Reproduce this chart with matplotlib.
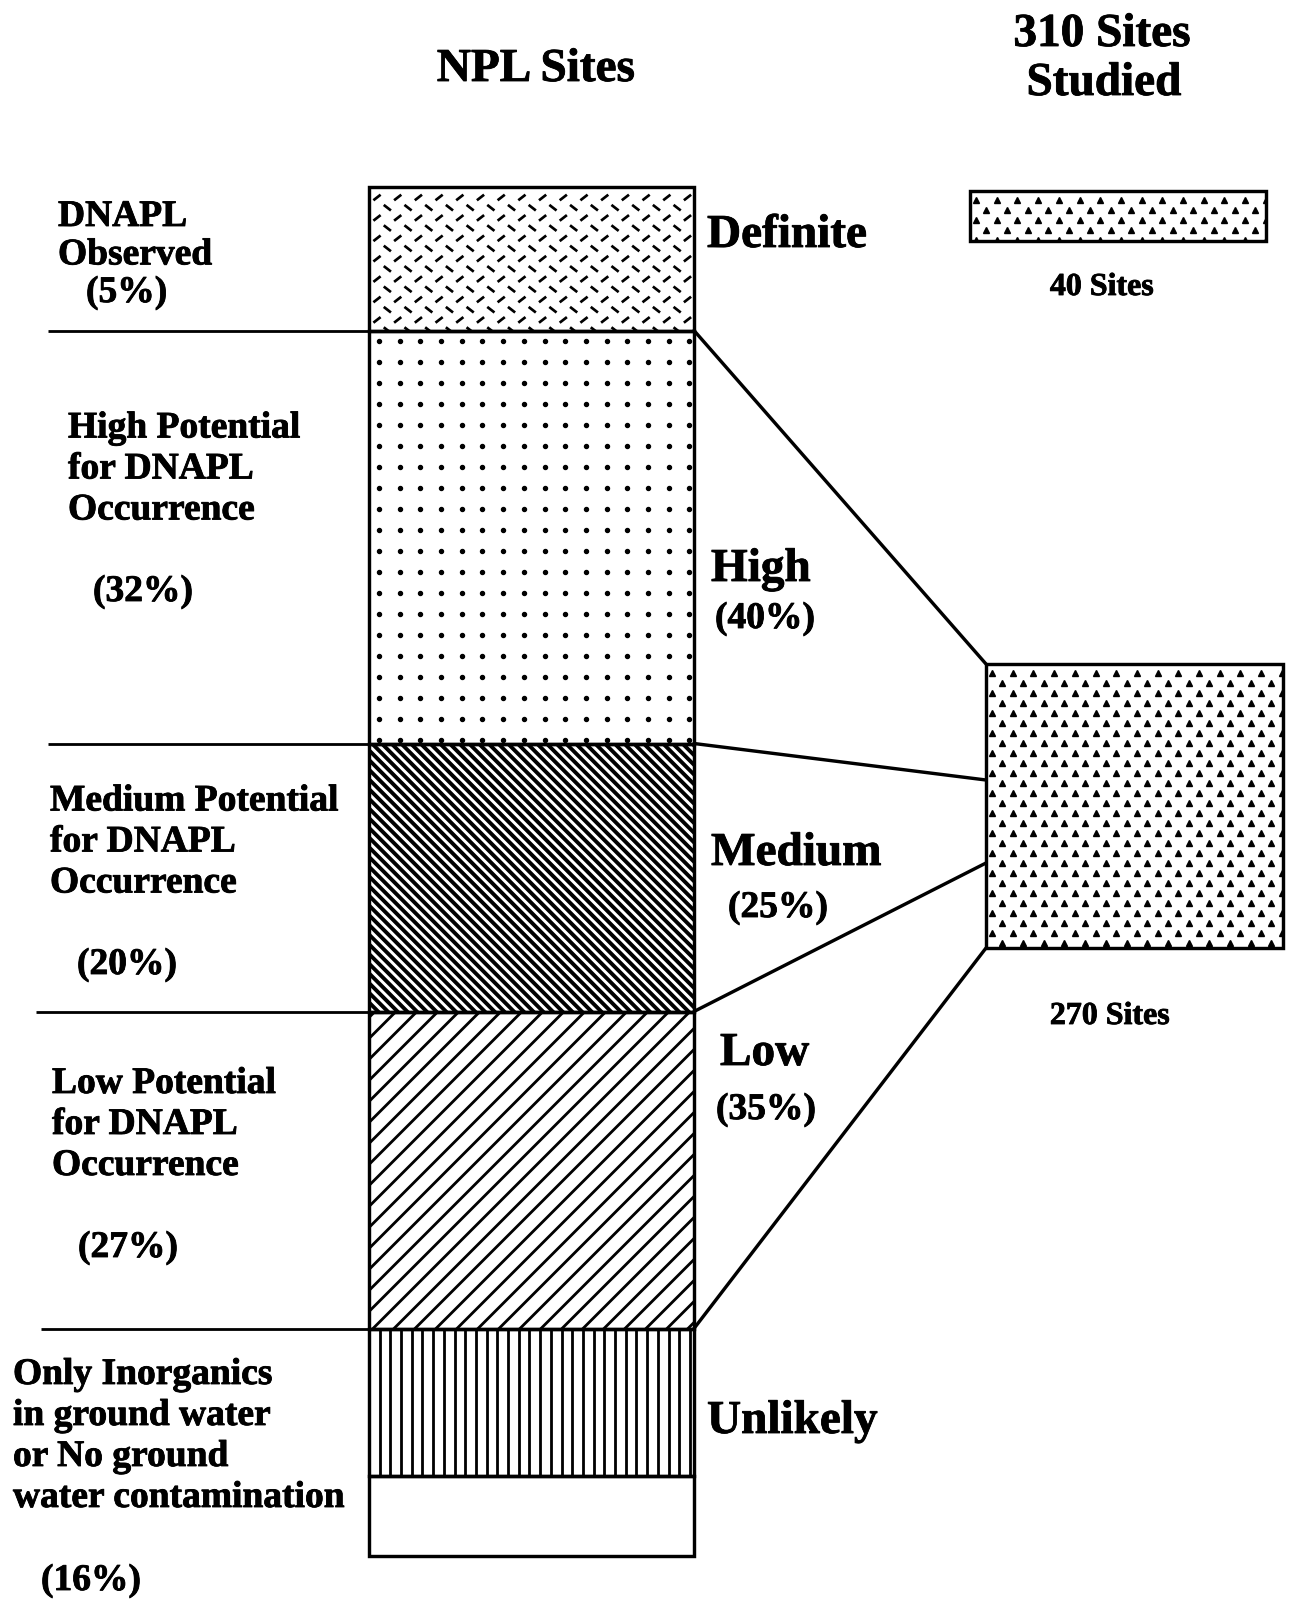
import numpy as np
import matplotlib
matplotlib.use("Agg")
import matplotlib.pyplot as plt
import matplotlib.patheffects as pe
from matplotlib.collections import LineCollection

# ---------------- data ----------------
categories = ["Definite", "High", "Medium", "Low", "Unlikely"]
category_share = ["", "(40%)", "(25%)", "(35%)", ""]
npl_labels = [
    ["DNAPL", "Observed"],
    ["High Potential", "for DNAPL", "Occurrence"],
    ["Medium Potential", "for DNAPL", "Occurrence"],
    ["Low Potential", "for DNAPL", "Occurrence"],
    ["Only Inorganics", "in ground water", "or No ground", "water contamination"],
]
npl_share = ["(5%)", "(32%)", "(20%)", "(27%)", "(16%)"]
# segment extents as drawn in the column
segment_values = [144, 413, 268, 317, 227]
unlikely_inorganic_value = 147          # hatched part of the "Unlikely" segment
sites_labels = ["40 Sites", "270 Sites"]
title_left = "NPL Sites"
title_right = ["310 Sites", "Studied"]

# ---------------- figure ----------------
plt.rcParams['font.family'] = ['Liberation Serif', 'DejaVu Serif']
plt.rcParams['font.weight'] = 'bold'
W, H = 1291, 1606
fig = plt.figure(figsize=(W / 100, H / 100), dpi=100)
ax = fig.add_axes([0, 0, 1, 1])
ax.set_xlim(0, W)
ax.set_ylim(H, 0)
ax.axis('off')

PX = 72 / 100.0  # points per pixel
BAR_LEFT, BAR_RIGHT, BAR_TOP = 369, 694, 187.5
bar_w = BAR_RIGHT - BAR_LEFT
bar_cx = (BAR_LEFT + BAR_RIGHT) / 2
seg = np.array(segment_values, float)
starts = BAR_TOP + np.concatenate([[0], np.cumsum(seg)[:-1]])
ends = starts + seg
EDGE_LW = 3.4 * PX
TEXT_FX = [pe.withStroke(linewidth=0.6, foreground='black')]


def seg_patch(bottom, height, z=1):
    return ax.bar(bar_cx, height, bottom=bottom, width=bar_w, color='white',
                  edgecolor='none', zorder=z)[0]


def outline(bottom, height):
    ax.bar(bar_cx, height, bottom=bottom, width=bar_w, fill=False,
           edgecolor='black', linewidth=EDGE_LW, zorder=5)


def line_texture(patch, segs, lw):
    lc = LineCollection(segs, colors='black', linewidths=lw * PX, zorder=2,
                        capstyle='butt')
    ax.add_collection(lc)
    lc.set_clip_path(patch)


# --- Definite: alternating short dashes
p = seg_patch(starts[0], seg[0])
segs = []
for r, y in enumerate(np.arange(starts[0] + 11, ends[0] + 5, 10.2)):
    off = 0 if r % 2 == 0 else 10.35
    for x in np.arange(BAR_LEFT + 8 + off, BAR_RIGHT + 5, 20.7):
        if r % 2 == 0:
            segs.append([(x - 3.6, y + 2.8), (x + 3.6, y - 2.8)])
        else:
            segs.append([(x - 3.6, y - 2.8), (x + 3.6, y + 2.8)])
line_texture(p, segs, 2.7)
outline(starts[0], seg[0])

# --- High: dot grid
p = seg_patch(starts[1], seg[1])
xs, ys = np.meshgrid(np.arange(BAR_LEFT + 10, BAR_RIGHT, 20.7),
                     np.arange(starts[1] + 10, ends[1], 21.0))
dots, = ax.plot(xs.ravel(), ys.ravel(), 'o', color='black', ms=4.0 * PX,
                zorder=2)
dots.set_clip_path(p)
outline(starts[1], seg[1])

# --- Medium: dense back-slash lines
p = seg_patch(starts[2], seg[2])
segs = []
for c in np.arange(BAR_LEFT - seg[2] - 20, BAR_RIGHT + 20, 9.7):
    segs.append([(c, starts[2]), (c + seg[2] + 10, ends[2] + 10)])
line_texture(p, segs, 3.9)
outline(starts[2], seg[2])

# --- Low: forward-slash lines
p = seg_patch(starts[3], seg[3])
segs = []
for c in np.arange(BAR_LEFT - 15, BAR_RIGHT + seg[3] + 30, 21.0):
    segs.append([(c, starts[3]), (c - seg[3] - 10, ends[3] + 10)])
line_texture(p, segs, 2.8)
outline(starts[3], seg[3])

# --- Unlikely: vertical lines + blank part
p = seg_patch(starts[4], unlikely_inorganic_value)
segs = [[(x, starts[4]), (x, starts[4] + unlikely_inorganic_value)]
        for x in np.arange(BAR_LEFT + 10.7, BAR_RIGHT, 10.7)]
line_texture(p, segs, 2.8)
outline(starts[4], unlikely_inorganic_value)
seg_patch(starts[4] + unlikely_inorganic_value, seg[4] - unlikely_inorganic_value)
outline(starts[4] + unlikely_inorganic_value, seg[4] - unlikely_inorganic_value)

# --- left separator lines
left_x = [48, 48, 36, 41]
for i in range(4):
    ax.plot([left_x[i], BAR_LEFT], [ends[i], ends[i]], color='black',
            lw=2.8 * PX, zorder=4, solid_capstyle='butt')

# --- sites boxes
boxes = [(970, 1266, 191.6, 241.8), (986, 1283, 665, 949)]
for (x0, x1, y0, y1) in boxes:
    bp = ax.bar((x0 + x1) / 2, y1 - y0, bottom=y0, width=x1 - x0, color='white',
                edgecolor='none', zorder=1)[0]
    px, py = [], []
    for r, y in enumerate(np.arange(y0 + 9, y1 + 4, 10.0)):
        off = 0 if r % 2 == 0 else 10.35
        for x in np.arange(x0 + 6 + off, x1, 20.7):
            px.append(x)
            py.append(y)
    m, = ax.plot(px, py, '^', color='black', ms=6.0 * PX, zorder=2)
    m.set_clip_path(bp)
    ax.bar((x0 + x1) / 2, y1 - y0, bottom=y0, width=x1 - x0, fill=False,
           edgecolor='black', linewidth=EDGE_LW, zorder=5)

# --- connector lines
BIG_LEFT = boxes[1][0]
targets = [boxes[1][2], 781, 864, boxes[1][3]]
for i in range(4):
    ax.plot([BAR_RIGHT, BIG_LEFT], [ends[i], targets[i]], color='black',
            lw=3.4 * PX, zorder=4, solid_capstyle='round')

# --- texts
BIG, MID = 34, 27


def txt(x, y, s, size, ha='left'):
    ax.text(x, y, s, ha=ha, va='baseline', fontsize=size, path_effects=TEXT_FX)


txt(536, 82, title_left, BIG, 'center')
txt(1102, 47, title_right[0], BIG, 'center')
txt(1104, 96, title_right[1], BIG, 'center')
txt(1102, 296, sites_labels[0], 23, 'center')
txt(1110, 1025, sites_labels[1], 23, 'center')

cat_pos = [(707, 248), (711, 582), (711, 866), (720, 1066), (707, 1434)]
share_pos = [None, (715, 629), (728, 918), (716, 1120), None]
for i, c in enumerate(categories):
    txt(cat_pos[i][0], cat_pos[i][1], c, BIG)
    if category_share[i]:
        txt(share_pos[i][0], share_pos[i][1], category_share[i], MID)

lab_pos = [(58, 227, 38.4), (68, 438.5, 41), (50, 811.5, 41), (52, 1094, 41),
           (13, 1385, 41)]
pct_pos = [(86, 303), (93, 602), (77, 975), (78, 1258), (41, 1591)]
for i, lines in enumerate(npl_labels):
    x, y, dy = lab_pos[i]
    for k, t in enumerate(lines):
        txt(x, y + k * dy, t, MID)
    txt(pct_pos[i][0], pct_pos[i][1], npl_share[i], MID)

fig.savefig("out.png", dpi=100)
